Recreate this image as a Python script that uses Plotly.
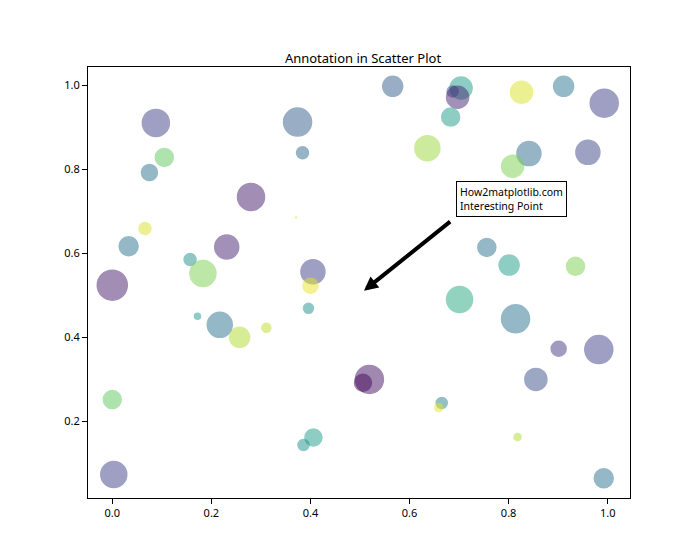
import plotly.graph_objects as go
from plotly.colors import sample_colorscale

# scatter points
x_vals = [0.088, 0.374, 0.384, 0.105, 0.075, 0.280, 0.371, 0.066, 0.033, 0.231,
          0.157, 0.183, 0.405, 0.000, 0.400, 0.566, 0.704, 0.687, 0.697, 0.683,
          0.826, 0.911, 0.993, 0.636, 0.841, 0.808, 0.960, 0.756, 0.801, 0.935,
          0.396, 0.172, 0.217, 0.257, 0.311, 0.000, 0.519, 0.506, 0.406, 0.386,
          0.003, 0.701, 0.814, 0.901, 0.982, 0.855, 0.665, 0.659, 0.818, 0.992]
y_vals = [0.910, 0.912, 0.839, 0.828, 0.792, 0.734, 0.685, 0.659, 0.617, 0.615,
          0.585, 0.552, 0.556, 0.524, 0.523, 0.997, 0.993, 0.985, 0.971, 0.924,
          0.983, 0.997, 0.957, 0.850, 0.837, 0.807, 0.840, 0.614, 0.572, 0.569,
          0.469, 0.450, 0.430, 0.400, 0.423, 0.252, 0.300, 0.292, 0.162, 0.144,
          0.074, 0.490, 0.444, 0.373, 0.371, 0.300, 0.244, 0.233, 0.163, 0.065]
diam = [28, 29, 13, 19, 17, 28, 2, 13, 20, 25,
        13, 27, 25, 31, 16, 21, 23, 12, 23, 19,
        23, 21, 29, 26, 25, 23, 25, 19, 21, 19,
        11, 7, 26, 21, 10, 19, 29, 18, 18, 12,
        27, 27, 29, 16, 29, 23, 12, 9, 8, 20]
color_vals = [0.20, 0.30, 0.35, 0.75, 0.38, 0.08, 0.95, 0.95, 0.38, 0.10,
              0.50, 0.80, 0.20, 0.08, 0.97, 0.30, 0.55, 0.25, 0.10, 0.55,
              0.95, 0.40, 0.20, 0.85, 0.35, 0.80, 0.22, 0.38, 0.55, 0.80,
              0.50, 0.55, 0.38, 0.88, 0.90, 0.75, 0.05, 0.02, 0.55, 0.50,
              0.20, 0.60, 0.38, 0.18, 0.20, 0.25, 0.45, 0.97, 0.88, 0.38]

# annotation: arrow tip, arrow tail, label box corner
arrow_tip = (0.508, 0.511)
arrow_tail = (0.685, 0.678)
label_pos = (0.693, 0.687)
label_text = "How2matplotlib.com<br>Interesting Point"

x_ticks = [0.0, 0.2, 0.4, 0.6, 0.8, 1.0]
y_ticks = [0.2, 0.4, 0.6, 0.8, 1.0]

FONT = "Noto Sans"

edge_colors = sample_colorscale("Viridis", color_vals)

fig = go.Figure(go.Scatter(
    x=x_vals, y=y_vals, mode="markers",
    marker=dict(
        size=[max(d - 1, 1) for d in diam],
        color=color_vals, colorscale="Viridis", cmin=0, cmax=1,
        opacity=0.5,
        line=dict(width=1.5, color=edge_colors),
    ),
    hoverinfo="skip",
))

fig.add_annotation(
    x=arrow_tip[0], y=arrow_tip[1], ax=arrow_tail[0], ay=arrow_tail[1],
    xref="x", yref="y", axref="x", ayref="y",
    text="", showarrow=True, arrowhead=2, arrowsize=0.7, arrowwidth=4,
    arrowcolor="black", standoff=0, startstandoff=0,
)
fig.add_annotation(
    x=label_pos[0], y=label_pos[1], xref="x", yref="y",
    xanchor="left", yanchor="bottom", align="left",
    text=label_text, showarrow=False,
    font=dict(family=FONT, size=10.5, color="black"),
    bgcolor="white", bordercolor="black", borderwidth=1, borderpad=3,
)

axis_common = dict(
    showgrid=False, zeroline=False, showline=True, linecolor="black",
    linewidth=1, mirror=True, ticks="outside", ticklen=5, tickwidth=1,
    tickcolor="black", tickformat=".1f",
    tickfont=dict(family=FONT, size=11, color="black"),
)

# page body adds ~8px offset, so the figure is a bit smaller than the window
fig.update_layout(
    width=692, height=552,
    margin=dict(l=80, r=70, t=59, b=62),
    paper_bgcolor="white", plot_bgcolor="white",
    showlegend=False,
    title=dict(text="Annotation in Scatter Plot", x=0.513, xanchor="center",
               y=0.9, yanchor="bottom",
               font=dict(family=FONT, size=13, color="black")),
    xaxis=dict(range=[-0.049, 1.045], tickvals=x_ticks, **axis_common),
    yaxis=dict(range=[0.018, 1.043], tickvals=y_ticks, **axis_common),
)

fig.write_html("out.html")
